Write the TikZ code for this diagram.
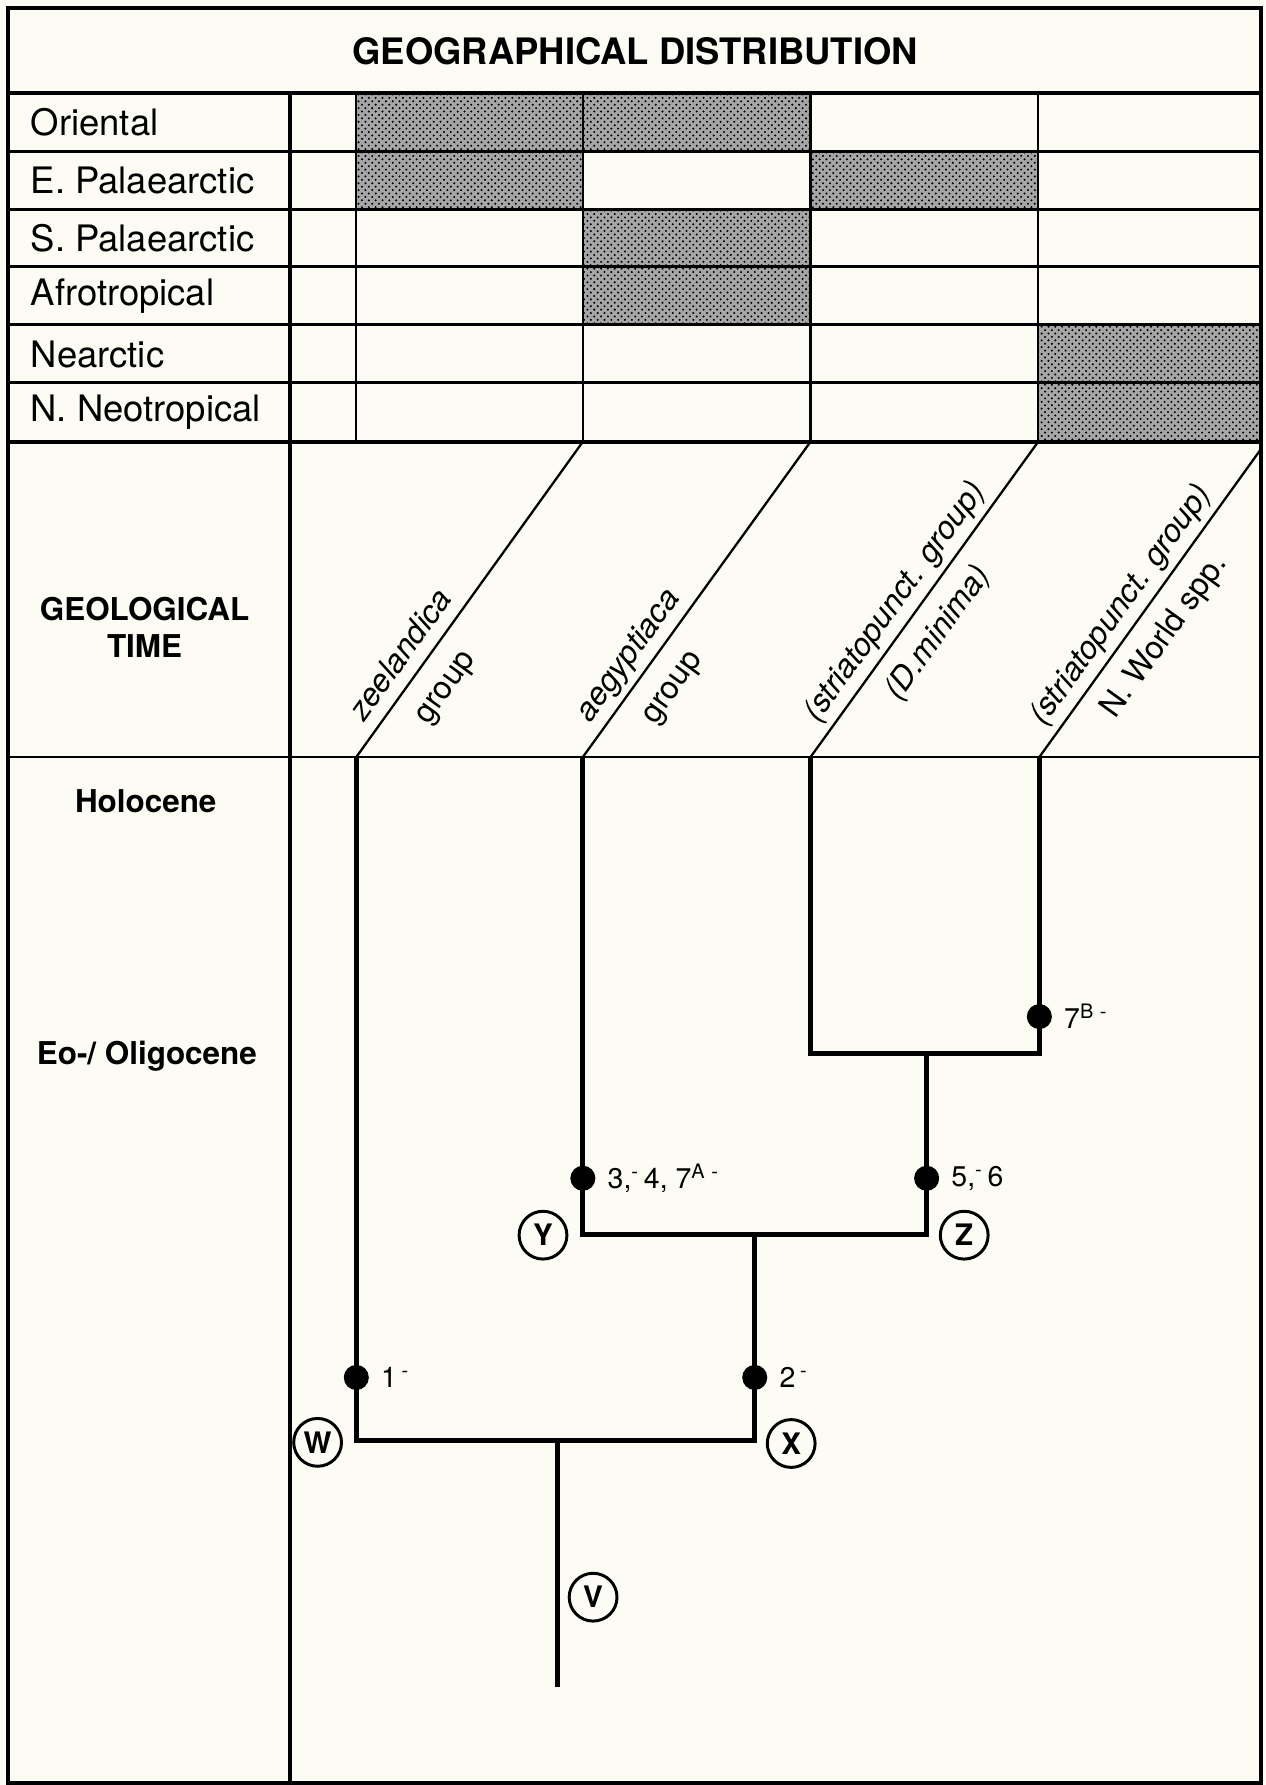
\documentclass[tikz,border=0pt]{standalone}
\usepackage{fontspec}
\setmainfont{TeX Gyre Heros}
\usetikzlibrary{patterns,positioning}
\definecolor{paper}{RGB}{252,252,244}
\tikzset{
  frame/.style={line width=1.8pt},
  rule/.style={line width=1pt},
  branch/.style={line width=2.2pt, line join=miter},
  stipple/.style={preaction={fill=black!35}, pattern=crosshatch dots, pattern color=black},
  region/.style={anchor=west, font=\fontsize{16}{19}\selectfont},
  epoch/.style={font=\bfseries\fontsize{13.8}{16.5}\selectfont, align=center},
  taxon/.style={sloped, font=\fontsize{14}{16}\selectfont, text height=10pt, text depth=3pt, inner sep=0pt},
  synapo/.style={circle, fill=black, inner sep=0pt, minimum size=11pt},
  synlbl/.style={font=\fontsize{12.5}{14}\selectfont, inner sep=1pt},
  clade/.style={circle, draw, line width=1.3pt, inner sep=0pt, minimum size=21pt, font=\bfseries\fontsize{13}{15}\selectfont}
}
\begin{document}
\begin{tikzpicture}[x=0.5pt, y=-0.5pt]
\useasboundingbox (0,0) rectangle (1112,1568);
\fill[paper] (0,0) rectangle (1112,1568);

\foreach \xa/\xb/\ya/\yb in {313/512/82/133, 512/712/82/133, 313/512/133/184, 712/912/133/184,
  512/712/184/234, 512/712/234/285, 912/1108/285/336, 912/1108/336/388}
  \fill[stipple] (\xa,\ya) rectangle (\xb,\yb);

\draw[frame] (7,7) rectangle (1108,1566);
\draw[frame] (7,82) -- (1108,82);
\draw[frame] (7,388) -- (1108,388);
\draw[frame] (255,82) -- (255,1566);
\foreach \y in {133,184,234,285,336}
  \draw[rule] (7,\y) -- (1108,\y);
\foreach \x in {313,512,712,912}
  \draw[rule] (\x,82) -- (\x,388);
\draw[line width=0.8pt] (7,665) -- (1108,665);

\node[font=\bfseries\fontsize{16}{19}\selectfont] (title) at (558,45) {GEOGRAPHICAL DISTRIBUTION};
\foreach \lbl [count=\i] in {Oriental, E. Palaearctic, S. Palaearctic, Afrotropical, Nearctic, N. Neotropical}
  \node[region] (reg\i) at (20,{82+51*(\i-0.5)}) {\lbl};

\node[epoch] (geotime) at (127,551) {GEOLOGICAL\\TIME};
\node[epoch] (holo) at (128,704) {Holocene};
\node[epoch] (eoolig) at (129,928) {Eo-/ Oligocene};

\coordinate (tip1) at (313,665);
\coordinate (tip2) at (512,665);
\coordinate (tip3) at (712,665);
\coordinate (tip4) at (913,665);
\coordinate (top1) at (512,388);
\coordinate (top2) at (712,388);
\coordinate (top3) at (912,388);
\coordinate (top4) at (1108,394);

\draw[rule] (tip1) -- (top1)
  node[taxon, pos=.28, above=2.5pt] (zee) {\textit{zeelandica}}
  node[taxon, pos=.28, below=7pt] (zeegr) {group};
\draw[rule] (tip2) -- (top2)
  node[taxon, pos=.28, above=2.5pt] (aeg) {\textit{aegyptiaca}}
  node[taxon, pos=.28, below=7pt] (aeggr) {group};
\draw[rule] (tip3) -- (top3)
  node[taxon, pos=.45, above=2.5pt] (stri1) {\textit{(striatopunct. group)}}
  node[taxon, pos=.45, below=7pt] (mini) {\textit{(D.minima)}};
\draw[rule] (tip4) -- (top4)
  node[taxon, pos=.45, above=2.5pt] (stri2) {\textit{(striatopunct. group)}}
  node[taxon, pos=.45, below=7pt] (nworld) {N. World spp.};

\coordinate (c3) at (712,925);
\coordinate (c4) at (913,925);
\coordinate (j34) at (814,925);
\coordinate (Y) at (512,1084);
\coordinate (Z) at (814,1084);
\coordinate (jYZ) at (663,1084);
\coordinate (W) at (313,1265);
\coordinate (X) at (663,1265);
\coordinate (jWX) at (490,1265);
\coordinate (root) at (490,1482);

\draw[branch] (tip1) -- (W) -- (X) -- (jYZ);
\draw[branch] (tip2) -- (Y) -- (Z) -- (j34);
\draw[branch] (tip3) -- (c3) -- (c4) -- (tip4);
\draw[branch] (jWX) -- (root);

\node[synapo] (s7b) at (913,893) {};
\node[synapo] (s347) at (512,1035) {};
\node[synapo] (s56) at (814,1035) {};
\node[synapo] (s1) at (313,1210) {};
\node[synapo] (s2) at (663,1210) {};
\node[synlbl, right=4pt of s7b] (l7b) {7\textsuperscript{B\,\,-}};
\node[synlbl, right=4pt of s347] (l347) {3,\textsuperscript{-}\,4, 7\textsuperscript{A\,\,-}};
\node[synlbl, right=4pt of s56] (l56) {5,\textsuperscript{-}\,6};
\node[synlbl, right=4pt of s1] (l1) {1\,\textsuperscript{-}};
\node[synlbl, right=4pt of s2] (l2) {2\,\textsuperscript{-}};

\node[clade] (cW) at (279,1267) {W};
\node[clade] (cX) at (695,1268) {X};
\node[clade] (cY) at (477,1085) {Y};
\node[clade] (cZ) at (847,1085) {Z};
\node[clade] (cV) at (521,1403) {V};
\end{tikzpicture}
\end{document}
